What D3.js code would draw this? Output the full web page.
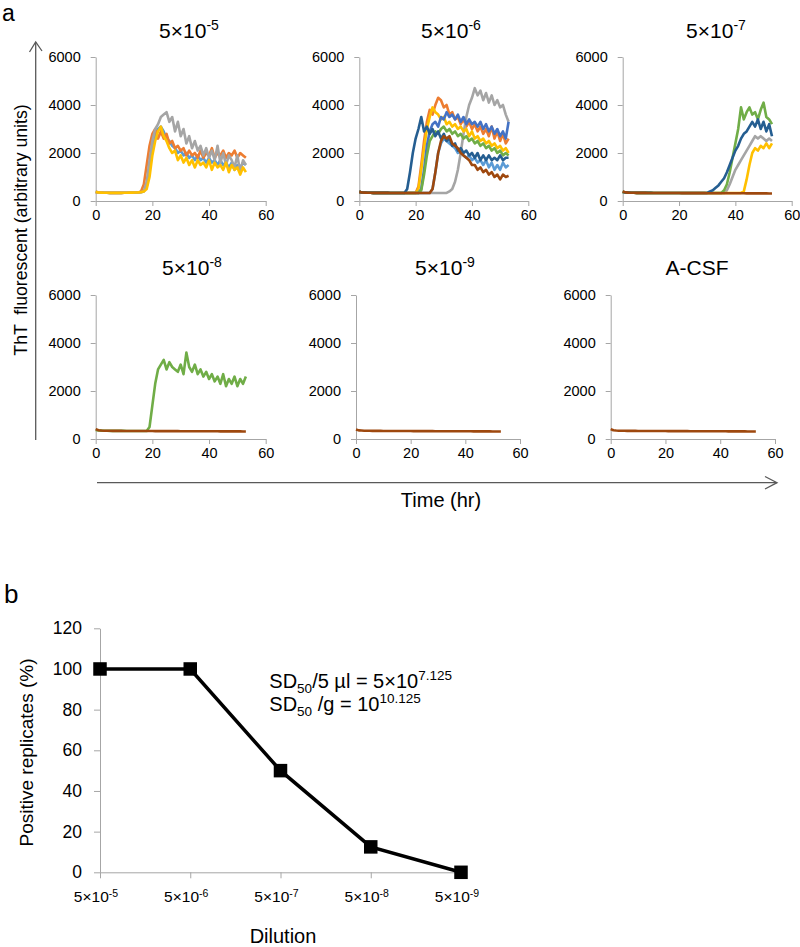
<!DOCTYPE html>
<html><head><meta charset="utf-8">
<script src="https://cdn.jsdelivr.net/npm/d3@7"></script>
<style>body{margin:0;background:#fff} svg{display:block;font-family:"Liberation Sans",Arial,sans-serif}</style>
</head><body><svg id="c" width="800" height="947"></svg>
<script>
// ---------- DATA ----------
const hours = d3.range(0, 54); // sampling times (hr)
const xTicks = [0, 20, 40, 60];
const yTicks = [0, 2000, 4000, 6000];

// Panel 1: 5x10^-5
const p1Blue   = [380,355,350,345,345,340,340,340,340,340,345,345,350,350,355,360,370,400,600,1300,2200,2700,3000,3100,2900,2600,2500,2300,2200,2000,2100,1900,2000,1800,1900,1700,1900,1700,1800,1600,1800,1600,1700,1500,1700,1500,1600,1400,1600,1300,1500,1400,1600,1500];
const p1Orange = [380,355,350,345,345,340,340,340,340,340,345,345,350,350,355,360,400,700,1500,2300,2800,3000,2600,2900,2600,2800,2400,2500,2200,2300,2100,2200,1900,2100,1900,2000,1800,2100,1800,2000,1900,2200,1800,2000,1900,2100,1800,2000,1900,2100,1800,2000,1900,1800];
const p1Gray   = [380,355,350,345,345,340,340,340,340,340,345,345,350,350,355,360,370,420,800,1700,2500,3000,3200,3500,3600,3700,3300,3500,2900,3300,2700,3000,2400,2700,2200,2500,2100,2300,1900,2200,1800,2100,1700,2300,1600,2000,1500,1900,1700,1400,1900,1200,1700,1500];
const p1Yellow = [380,355,350,345,345,340,340,340,340,340,345,345,350,350,355,360,370,400,500,1000,1900,2500,2900,3100,2700,2500,2200,2000,2100,1700,1900,1600,1800,1500,1700,1400,1700,1500,1600,1400,1700,1300,1600,1400,1500,1300,1600,1200,1500,1300,1400,1100,1400,1200];

// Panel 2: 5x10^-6
const p2LightBlue = [380,355,350,345,342,340,340,340,338,338,338,336,336,336,335,335,335,335,335,335,335,335,335,335,335,335,500,1200,2000,2400,2600,2500,2400,2300,2200,2000,2100,1900,1800,1900,1700,1800,1600,1700,1500,1700,1400,1600,1300,1500,1300,1600,1400,1500];
const p2Orange = [380,355,350,345,342,340,340,340,338,338,338,336,336,336,335,335,335,335,335,335,335,600,1500,2500,3300,3800,3600,4000,4300,4200,3900,4000,3600,3700,3400,3500,3200,3400,3100,3300,3000,3200,2900,3100,2800,3000,2700,3100,2600,2900,2500,2800,2400,2600];
const p2Gray   = [380,355,350,345,342,340,340,340,338,338,338,336,336,336,335,335,335,335,335,335,335,335,335,335,335,335,335,335,335,335,335,335,400,500,800,1300,2000,2800,3500,4000,4300,4700,4400,4600,4200,4500,4100,4400,4000,4200,3900,4000,3600,3300];
const p2Yellow = [380,355,350,345,342,340,340,340,338,338,338,336,336,336,335,335,335,335,335,335,335,500,1300,2200,3000,3500,3900,3700,3600,3400,3500,3200,3300,3100,3200,3000,3100,2900,3000,2700,2900,2600,2700,2500,2600,2400,2500,2300,2400,2200,2300,2100,2200,2000];
const p2Blue   = [380,355,350,345,342,340,340,340,338,338,338,336,336,336,335,335,335,335,335,335,335,335,500,1300,2300,2900,3200,3300,3100,3500,3400,3700,3500,3600,3400,3600,3300,3500,3200,3400,3200,3300,3100,3300,3000,3200,2900,3100,2800,3000,2700,2900,2600,3300];
const p2Green  = [380,355,350,345,342,340,340,340,338,338,338,336,336,336,335,335,335,335,335,335,335,335,450,1100,1900,2500,2700,2900,2800,3000,3100,2900,3000,2800,2900,2700,2800,2600,2700,2500,2600,2400,2500,2300,2400,2200,2300,2100,2200,2000,2100,1900,2000,1900];
const p2Navy   = [380,355,350,345,342,340,340,340,338,338,338,336,336,336,335,335,335,500,1200,2000,2600,3000,3500,2900,3100,2800,3000,2700,2900,2600,2800,2500,2600,2300,2400,2100,2200,2000,2100,1900,2000,1800,2000,1700,1900,1700,1900,1700,1800,1700,1900,1700,1800,1800];
const p2Brown  = [380,355,350,345,342,340,340,340,338,338,338,336,336,336,335,335,335,335,335,335,335,335,335,335,335,335,500,1200,2000,2500,2700,2600,2700,2400,2300,2200,2000,1900,1800,1700,1500,1500,1300,1400,1200,1300,1100,1200,1000,1100,900,1100,1000,1050];

// Panel 3: 5x10^-7
const p3Gray   = [380,355,350,345,342,340,340,340,338,338,338,336,336,336,335,335,335,335,335,335,335,335,335,335,335,335,335,335,335,335,335,335,335,335,335,335,335,450,700,1000,1300,1500,1700,1900,2100,2300,2500,2700,2600,2700,2600,2500,2600,2500];
const p3Yellow = [380,355,350,345,342,340,340,340,338,338,338,336,336,336,335,335,335,335,335,335,335,335,335,335,335,335,335,335,335,335,335,335,335,335,335,335,335,335,335,335,335,335,335,400,900,1500,2000,2200,2100,2300,2200,2400,2200,2400];
const p3Green  = [380,355,350,345,342,340,340,340,338,338,338,336,336,336,335,335,335,335,335,335,335,335,335,335,335,335,335,335,335,335,335,335,335,335,335,335,450,700,1200,1800,2400,3000,3900,3400,3700,3900,3600,3700,3400,3800,4100,3500,3400,3200];
const p3Navy   = [380,355,350,345,342,340,340,340,338,338,338,336,336,336,335,335,335,335,335,335,335,335,335,335,335,335,335,335,335,335,335,400,450,550,650,800,950,1200,1500,1800,2100,2300,2600,2800,2900,3100,3300,3100,3400,3000,3300,2900,3200,2700];
const p3Brown  = [400,360,350,345,342,340,340,338,338,336,336,335,335,334,334,333,333,332,332,331,331,330,330,330,329,329,328,328,327,327,326,326,325,325,324,324,323,323,322,322,321,321,320,320,319,319,318,318,317,317,316,316,315,315];

// Panel 4: 5x10^-8
const p4Green  = [380,355,350,345,342,340,340,340,338,338,338,336,336,336,335,335,335,335,335,500,1400,2300,2900,3100,3300,2900,3200,3000,2900,2800,3100,2700,3600,3000,2800,3100,2700,2900,2600,2800,2500,2700,2400,2600,2300,2700,2200,2500,2300,2600,2200,2500,2300,2600];
const p4Brown  = [410,365,352,346,343,341,340,339,338,337,336,335,335,334,334,333,333,332,332,331,331,330,330,330,329,329,328,328,327,327,326,326,325,325,324,324,323,323,322,322,321,321,320,320,319,319,318,318,317,317,316,316,315,315];

// Panel 5: 5x10^-9
const p5Brown  = [400,360,352,346,343,341,340,339,338,337,336,335,335,334,334,333,333,332,332,331,331,330,330,329,329,328,328,327,327,326,326,325,325,324,324,323,323,322,322,321,321,320,320,319,318,318,317,317,316,316,315,315,314,314];

// Panel 6: A-CSF
const p6Brown  = [410,362,352,346,343,341,340,339,338,337,336,335,335,334,334,333,333,332,332,331,331,330,330,329,329,328,328,327,327,326,326,325,325,324,324,323,323,322,322,321,321,320,320,319,318,318,317,317,316,316,315,315,314,314];

const panelTitles = ["5×10", "5×10", "5×10", "5×10", "5×10", "A-CSF"];
const panelTitleExp = ["-5", "-6", "-7", "-8", "-9", ""];

// Panel b
const dilutionExp = ["-5", "-6", "-7", "-8", "-9"];
const positivePct = [100, 100, 50, 12.5, 0];
const bYTicks = [0, 20, 40, 60, 80, 100, 120];

// ---------- STYLE / LAYOUT ----------
const C = {blue:"#5b9bd5", orange:"#ed7d31", gray:"#a5a5a5", yellow:"#ffc000", blue2:"#4472c4", green:"#70ad47", navy:"#255e91", brown:"#9e480e"};
const panelSeries = [
  [[p1Blue,C.blue],[p1Orange,C.orange],[p1Gray,C.gray],[p1Yellow,C.yellow]],
  [[p2LightBlue,C.blue],[p2Orange,C.orange],[p2Gray,C.gray],[p2Yellow,C.yellow],[p2Blue,C.blue2],[p2Green,C.green],[p2Navy,C.navy],[p2Brown,C.brown]],
  [[p3Gray,C.gray],[p3Yellow,C.yellow],[p3Green,C.green],[p3Navy,C.navy],[p3Brown,C.brown]],
  [[p4Green,C.green],[p4Brown,C.brown]],
  [[p5Brown,C.brown]],
  [[p6Brown,C.brown]]
];
const layout = [
  {x0:95.7, w:170, y0:201, tx:189, ty:38},
  {x0:359.3, w:169, y0:201, tx:451, ty:38},
  {x0:622.7, w:169, y0:201, tx:716, ty:38},
  {x0:95.7, w:170, y0:439, tx:192, ty:275},
  {x0:356, w:164, y0:439, tx:445, ty:275},
  {x0:610.7, w:164.3, y0:439, tx:697, ty:275}
];
const AXIS = "#a6a6a6";
const ARROW = "#595959";
const FONT = '"Liberation Sans", Arial, sans-serif';
const svg = d3.select("#c");

function styleAxis(g, fs) {
  g.attr("font-size", fs).attr("font-family", FONT);
  g.select(".domain").attr("stroke", AXIS).attr("stroke-width", 1);
  g.selectAll(".tick line").attr("stroke", AXIS).attr("stroke-width", 1);
  g.selectAll(".tick text").attr("fill", "#000").style("font-size", fs + "px").style("font-family", FONT);
}

// ---------- PANELS (a) ----------
layout.forEach((L, i) => {
  const x = d3.scaleLinear().domain([0, 60]).range([L.x0, L.x0 + L.w]);
  const y = d3.scaleLinear().domain([0, 6000]).range([L.y0, L.y0 - 144]);
  const gy = svg.append("g").attr("transform", `translate(${L.x0},0)`)
    .call(d3.axisLeft(y).tickValues(yTicks).tickSize(5).tickSizeOuter(0).tickPadding(10).tickFormat(d3.format("d")));
  styleAxis(gy, 14.5);
  const gx = svg.append("g").attr("transform", `translate(0,${L.y0})`)
    .call(d3.axisBottom(x).tickValues(xTicks).tickSize(5).tickSizeOuter(0).tickPadding(4));
  styleAxis(gx, 14.5);
  const line = d3.line().x((d, k) => x(hours[k])).y(d => y(d));
  panelSeries[i].forEach(([vals, col]) => {
    svg.append("path").datum(vals).attr("d", line).attr("fill", "none")
      .attr("stroke", col).attr("stroke-width", 2.6).attr("stroke-linejoin", "round");
  });
  const t = svg.append("text").attr("x", L.tx).attr("y", L.ty).attr("text-anchor", "middle")
    .style("font-size", "21px").attr("fill", "#000");
  t.append("tspan").text(panelTitles[i]);
  if (panelTitleExp[i]) t.append("tspan").style("font-size", "14px").attr("dy", -8).text(panelTitleExp[i]);
});

// arrows
svg.append("line").attr("x1", 35.7).attr("y1", 440).attr("x2", 35.7).attr("y2", 42)
  .attr("stroke", ARROW).attr("stroke-width", 1.3);
svg.append("path").attr("d", "M29.5,52 L35.7,42 L42,51").attr("fill", "none").attr("stroke", ARROW).attr("stroke-width", 1.3);
svg.append("line").attr("x1", 97).attr("y1", 482.7).attr("x2", 777).attr("y2", 482.7)
  .attr("stroke", ARROW).attr("stroke-width", 1.3);
svg.append("path").attr("d", "M765,476.5 L777,482.7 L765,489").attr("fill", "none").attr("stroke", ARROW).attr("stroke-width", 1.3);

svg.append("text").attr("transform", "translate(27,230) rotate(-90)").attr("text-anchor", "middle")
  .style("font-size", "17.7px").attr("fill", "#000").attr("xml:space", "preserve").text("ThT  fluorescent (arbitrary units)");
svg.append("text").attr("x", 441).attr("y", 507).attr("text-anchor", "middle").style("font-size", "20px").attr("fill", "#000").text("Time (hr)");
svg.append("text").attr("x", 2).attr("y", 21).style("font-size", "23px").attr("fill", "#000").text("a");

// ---------- PANEL b ----------
const xb = d3.scalePoint().domain(dilutionExp).range([100, 461]);
const yb = d3.scaleLinear().domain([0, 120]).range([872.3, 628.3]);
const gby = svg.append("g").attr("transform", "translate(100,0)")
  .call(d3.axisLeft(yb).tickValues(bYTicks).tickSize(6).tickSizeOuter(0).tickPadding(12));
styleAxis(gby, 17.5);
const gbx = svg.append("g").attr("transform", "translate(0,872.3)")
  .call(d3.axisBottom(xb).tickSize(6).tickSizeOuter(0).tickFormat(""));
styleAxis(gbx, 15);
dilutionExp.forEach(e => {
  const t = svg.append("text").attr("x", xb(e) - 4).attr("y", 901.7).attr("text-anchor", "middle")
    .style("font-size", "15.5px").attr("fill", "#000");
  t.append("tspan").text("5×10");
  t.append("tspan").style("font-size", "10.5px").attr("dy", -5).text(e);
});
const bData = dilutionExp.map((e, i) => [e, positivePct[i]]);
svg.append("path").datum(bData).attr("d", d3.line().x(d => xb(d[0])).y(d => yb(d[1])))
  .attr("fill", "none").attr("stroke", "#000").attr("stroke-width", 3.5).attr("stroke-linejoin", "miter");
svg.selectAll("rect.mk").data(bData).join("rect").attr("class", "mk")
  .attr("x", d => xb(d[0]) - 6.75).attr("y", d => yb(d[1]) - 6.75).attr("width", 13.5).attr("height", 13.5).attr("fill", "#000");

const a1 = svg.append("text").attr("x", 269.3).attr("y", 688).style("font-size", "20px").attr("fill", "#000");
a1.append("tspan").text("SD");
a1.append("tspan").style("font-size", "13.5px").attr("dy", 5).text("50");
a1.append("tspan").attr("dy", -5).text("/5 µl = 5×10");
a1.append("tspan").style("font-size", "13.5px").attr("dy", -8).text("7.125");
const a2 = svg.append("text").attr("x", 269.3).attr("y", 710.7).style("font-size", "20px").attr("fill", "#000");
a2.append("tspan").text("SD");
a2.append("tspan").style("font-size", "13.5px").attr("dy", 5).text("50");
a2.append("tspan").attr("dy", -5).text(" /g = 10");
a2.append("tspan").style("font-size", "13.5px").attr("dy", -8).text("10.125");

svg.append("text").attr("transform", "translate(33,752.5) rotate(-90)").attr("text-anchor", "middle")
  .style("font-size", "19px").attr("fill", "#000").text("Positive replicates (%)");
svg.append("text").attr("x", 283).attr("y", 943).attr("text-anchor", "middle").style("font-size", "20px").attr("fill", "#000").text("Dilution");
svg.append("text").attr("x", 4).attr("y", 603).style("font-size", "26px").attr("fill", "#000").text("b");
</script></body></html>
